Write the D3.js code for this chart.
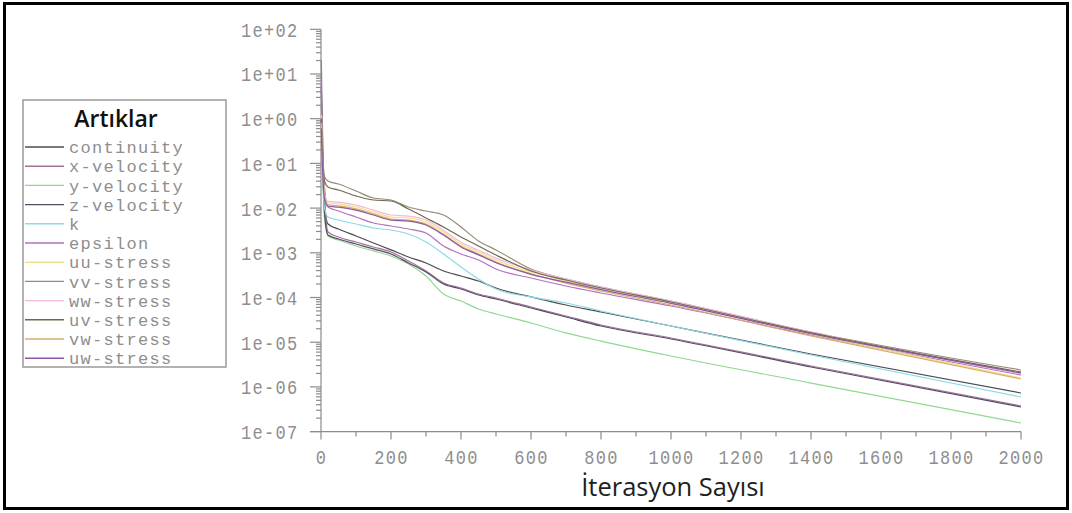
<!DOCTYPE html>
<html>
<head>
<meta charset="utf-8">
<script src="https://cdn.jsdelivr.net/npm/d3@7/dist/d3.min.js"></script>
<style>
	body { margin: 0; background: #fff; }
	svg { display: block; }
</style>
</head>
<body>
<div id="chart"></div>
<script>
const iterations = [1, 3, 6, 10, 20, 50, 100, 150, 200, 250, 300, 350, 400, 450, 500, 600, 700, 800, 1000, 1400, 2000];

const continuity = [1.0, 0.2, 0.04, 0.012, 4.41e-3, 3.41e-3, 2.38e-3, 1.66e-3, 1.16e-3, 8.06e-4, 5.92e-4, 3.92e-4, 3.03e-4, 2.34e-4, 1.63e-4, 1.03e-4, 6.79e-5, 4.74e-5, 2.30e-5, 5.44e-6, 7.30e-7];
const xVelocity  = [20, 2.0, 0.15, 0.02, 2.92e-3, 2.26e-3, 1.74e-3, 1.35e-3, 1.04e-3, 6.56e-4, 3.92e-4, 2.11e-4, 1.63e-4, 1.20e-4, 9.74e-5, 6.12e-5, 3.85e-5, 2.43e-5, 1.24e-5, 2.94e-6, 3.74e-7];
const yVelocity  = [3.0, 0.3, 0.03, 0.006, 2.38e-3, 1.93e-3, 1.42e-3, 1.10e-3, 8.49e-4, 5.62e-4, 3.03e-4, 1.20e-4, 8.35e-5, 5.53e-5, 4.28e-5, 2.69e-5, 1.61e-5, 1.06e-5, 4.91e-6, 1.22e-6, 1.56e-7];
const zVelocity  = [5.0, 0.5, 0.05, 0.008, 2.50e-3, 2.04e-3, 1.57e-3, 1.22e-3, 9.40e-4, 5.92e-4, 3.72e-4, 2.00e-4, 1.55e-4, 1.14e-4, 9.25e-5, 5.82e-5, 3.66e-5, 2.30e-5, 1.18e-5, 2.79e-6, 3.55e-7];
const kResid     = [0.8, 0.12, 0.03, 0.01, 6.32e-3, 5.42e-3, 4.41e-3, 3.59e-3, 3.24e-3, 2.63e-3, 1.74e-3, 9.40e-4, 4.81e-4, 2.59e-4, 1.55e-4, 1.03e-4, 7.53e-5, 4.99e-5, 2.30e-5, 5.17e-6, 5.94e-7];
const epsilon    = [6, 0.8, 0.1, 0.03, 1.06e-2, 8.61e-3, 6.32e-3, 4.65e-3, 3.98e-3, 3.41e-3, 2.77e-3, 1.42e-3, 9.40e-4, 6.90e-4, 4.35e-4, 2.73e-4, 1.81e-4, 1.26e-4, 6.45e-5, 1.45e-5, 1.85e-6];
const uuStress   = [1.5, 0.3, 0.06, 0.02, 1.30e-2, 1.24e-2, 1.06e-2, 8.18e-3, 6.32e-3, 6.01e-3, 4.89e-3, 2.92e-3, 1.57e-3, 1.04e-3, 6.90e-4, 3.72e-4, 2.34e-4, 1.55e-4, 7.53e-5, 1.52e-5, 1.58e-6];
const vvStress   = [2, 0.4, 0.1, 0.05, 4.04e-2, 3.46e-2, 2.42e-2, 1.68e-2, 1.52e-2, 1.06e-2, 8.61e-3, 7.01e-3, 3.78e-3, 1.84e-3, 1.16e-3, 4.35e-4, 2.59e-4, 1.72e-4, 8.35e-5, 1.69e-5, 2.39e-6];
const wwStress   = [1.2, 0.25, 0.05, 0.02, 1.42e-2, 1.36e-2, 1.17e-2, 9.0e-3, 7.0e-3, 6.6e-3, 5.4e-3, 3.2e-3, 1.72e-3, 1.14e-3, 7.6e-4, 4.1e-4, 2.6e-4, 1.70e-4, 8.3e-5, 1.67e-5, 1.94e-6];
const uvStress   = [1.0, 0.3, 0.08, 0.04, 2.97e-2, 2.54e-2, 1.87e-2, 1.52e-2, 1.44e-2, 9.54e-3, 6.01e-3, 3.78e-3, 2.26e-3, 1.42e-3, 8.93e-4, 3.92e-4, 2.46e-4, 1.63e-4, 7.93e-5, 1.61e-5, 2.15e-6];
const vwStress   = [0.8, 0.2, 0.05, 0.018, 1.18e-2, 1.12e-2, 9.6e-3, 7.4e-3, 5.7e-3, 5.4e-3, 4.4e-3, 2.6e-3, 1.42e-3, 9.4e-4, 6.2e-4, 3.4e-4, 2.1e-4, 1.40e-4, 6.8e-5, 1.38e-5, 1.50e-6];
const uwStress   = [0.6, 0.15, 0.04, 0.016, 1.10e-2, 1.05e-2, 9.0e-3, 7.0e-3, 5.4e-3, 5.1e-3, 4.2e-3, 2.5e-3, 1.35e-3, 9.0e-4, 6.0e-4, 3.3e-4, 2.2e-4, 1.50e-4, 7.4e-5, 1.55e-5, 2.05e-6];

const seriesNames = ['continuity', 'x-velocity', 'y-velocity', 'z-velocity', 'k', 'epsilon',
	'uu-stress', 'vv-stress', 'ww-stress', 'uv-stress', 'vw-stress', 'uw-stress'];
const seriesValues = [continuity, xVelocity, yVelocity, zVelocity, kResid, epsilon,
	uuStress, vvStress, wwStress, uvStress, vwStress, uwStress];

const yExponents = [2, 1, 0, -1, -2, -3, -4, -5, -6, -7];
const xTickValues = [0, 200, 400, 600, 800, 1000, 1200, 1400, 1600, 1800, 2000];

const legendTitle = 'Artıklar';
const xTitle = 'İterasyon Sayısı';

// styles
const colors = ['#4c4c4c', '#a07494', '#8fd88f', '#574a68', '#8fd9e8', '#b271c0',
	'#f0e186', '#9a8b76', '#f2b9da', '#6c6850', '#d9ac6c', '#8a58a2'];
const axisColor = '#8c8c8c';
const monoFont = '"Liberation Mono", "DejaVu Sans Mono", monospace';

const W = 1072, H = 513;

let svg = d3.select('#chart').append('svg')
	.attr('width', W)
	.attr('height', H);

svg.append('rect')
	.attr('width', W)
	.attr('height', H)
	.attr('fill', '#fff');

let x = d3.scaleLinear().domain([0, 2000]).range([321, 1021]);
let y = d3.scaleLog().domain([1e-7, 1e2]).range([431.6, 29.3]);

// narrow, widely spaced mono text like the solver's stroke font
function monoText(g, px, py, str, anchor, stretch){
	return g.append('text')
		.attr('transform', 'translate(' + px + ',' + py + ') scale(1,' + stretch + ')')
		.attr('text-anchor', anchor)
		.attr('dy', '0.36em')
		.attr('font-family', monoFont)
		.attr('font-size', 17)
		.attr('letter-spacing', 1.3)
		.attr('fill', '#8e8e8e')
		.text(str);
}

function expLabel(e){
	return '1e' + (e < 0 ? '-' : '+') + String(Math.abs(e)).padStart(2, '0');
}

let axes = svg.append('g').attr('stroke', axisColor).attr('stroke-width', 1.2);

// y axis
axes.append('line')
	.attr('x1', x(0)).attr('x2', x(0))
	.attr('y1', y(1e2)).attr('y2', y(1e-7));

yExponents.forEach(function(e){
	let v = Math.pow(10, e);
	axes.append('line')
		.attr('x1', x(0) - 11).attr('x2', x(0))
		.attr('y1', y(v)).attr('y2', y(v));
	if (e > -7){
		d3.range(2, 10).forEach(function(m){
			let mv = m * Math.pow(10, e - 1);
			axes.append('line')
				.attr('x1', x(0) - 5).attr('x2', x(0))
				.attr('y1', y(mv)).attr('y2', y(mv));
		});
	}
	monoText(svg, 298.5, y(v), expLabel(e), 'end', 1.22);
});

// x axis
axes.append('line')
	.attr('x1', x(0) - 11).attr('x2', x(2000))
	.attr('y1', y(1e-7)).attr('y2', y(1e-7));

d3.range(0, 2001, 100).forEach(function(t){
	let major = t % 200 === 0;
	axes.append('line')
		.attr('x1', x(t)).attr('x2', x(t))
		.attr('y1', y(1e-7)).attr('y2', y(1e-7) + (major ? 8 : 5));
});

xTickValues.forEach(function(t){
	monoText(svg, x(t) + 0.6, 457, String(t), 'middle', 1.22);
});

svg.append('text')
	.attr('x', 673)
	.attr('y', 496)
	.attr('text-anchor', 'middle')
	.attr('font-family', '"Open Sans", sans-serif')
	.attr('font-size', 25.5)
	.attr('fill', '#1e1e1e')
	.text(xTitle);

// residual curves
let line = d3.line()
	.x(function(d) { return x(d[0]); })
	.y(function(d) { return y(d[1]); })
	.curve(d3.curveMonotoneX);

let curves = svg.append('g').attr('fill', 'none').attr('stroke-width', 1.2);

seriesValues.forEach(function(vals, i){
	curves.append('path')
		.datum(d3.zip(iterations, vals))
		.attr('stroke', colors[i])
		.attr('stroke-linejoin', 'round')
		.attr('d', line);
});

// legend
let legend = svg.append('g');

legend.append('rect')
	.attr('x', 23).attr('y', 100)
	.attr('width', 203).attr('height', 267)
	.attr('fill', '#fff')
	.attr('stroke', '#9a9a9a')
	.attr('stroke-width', 1.5);

legend.append('text')
	.attr('x', 116).attr('y', 127)
	.attr('text-anchor', 'middle')
	.attr('font-family', '"Open Sans", sans-serif')
	.attr('font-weight', 600)
	.attr('font-size', 23)
	.attr('fill', '#111')
	.text(legendTitle);

seriesNames.forEach(function(name, i){
	let ly = 147 + i * 19.2;
	legend.append('line')
		.attr('x1', 25).attr('x2', 64)
		.attr('y1', ly).attr('y2', ly)
		.attr('stroke', colors[i])
		.attr('stroke-width', 1.4);
	monoText(legend, 69, ly, name, 'start', 1);
});

// outer frame
svg.append('rect')
	.attr('x', 4.5).attr('y', 3.5)
	.attr('width', 1063).attr('height', 505)
	.attr('fill', 'none')
	.attr('stroke', '#000')
	.attr('stroke-width', 3);
</script>
</body>
</html>
